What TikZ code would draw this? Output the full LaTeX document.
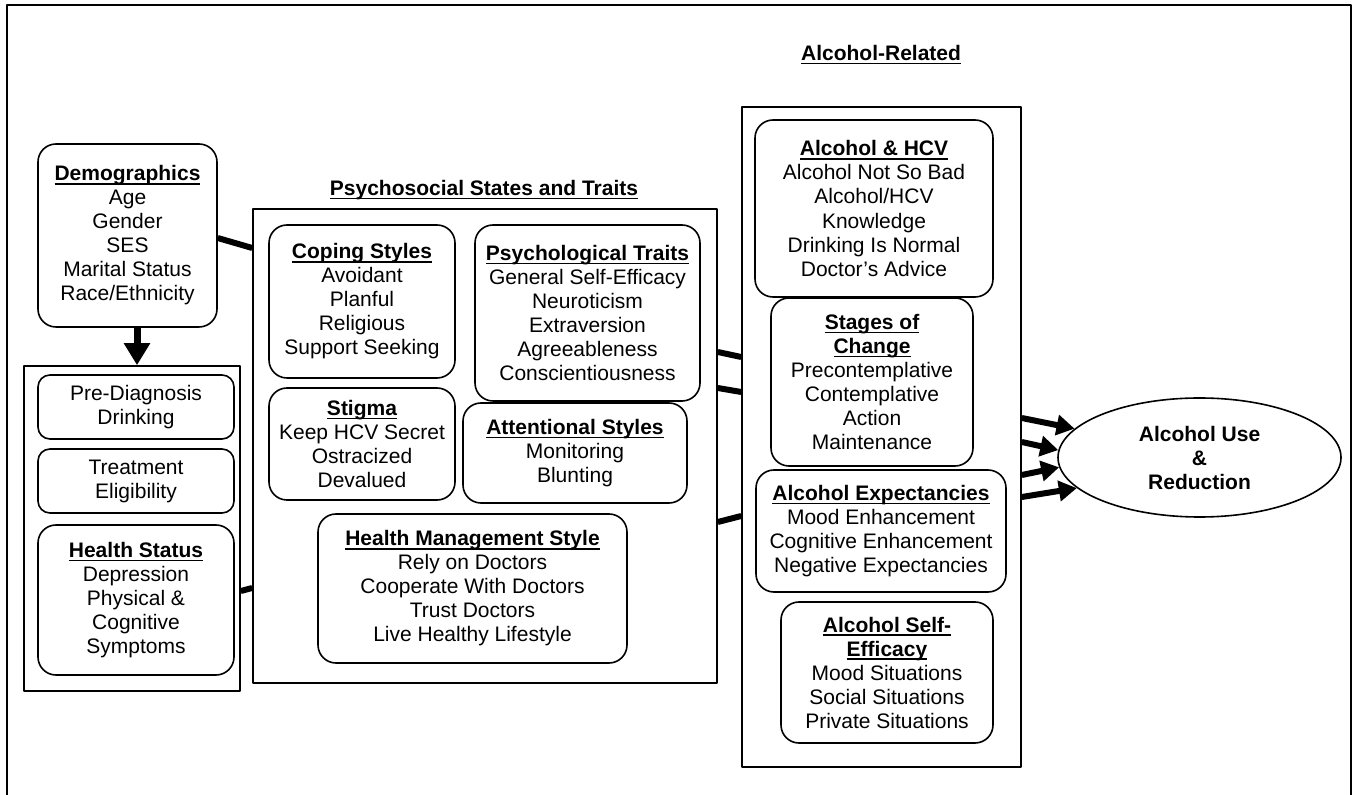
\documentclass[tikz,border=0pt]{standalone}
\usepackage{fontspec}
\setmainfont{Liberation Sans}
\usetikzlibrary{arrows.meta,shapes.geometric}
\newcommand{\hdr}[1]{{\bfseries\setbox0=\hbox{#1}\rlap{\rule[-1.8pt]{\wd0}{0.6pt}}\box0}}

\begin{document}
\begin{tikzpicture}[x=0.5pt, y=-0.5pt, line join=round,
    box/.style={draw, line width=0.8pt, rounded corners=9pt, align=center, inner sep=2pt,
      font=\fontsize{10.5}{12}\selectfont},
    grp/.style={draw, line width=0.8pt, inner sep=0pt},
    ttl/.style={font=\fontsize{10.5}{12}\selectfont},
    link/.style={line width=3pt},
    fat/.style={line width=3pt, -{Triangle[length=9pt,width=10pt]}}]
  \useasboundingbox (0,0) rectangle (1353,795);
  \draw[line width=1.2pt] (7,795) -- (7,5) -- (1351,5) -- (1351,795);

  \node[box, minimum width=89.5pt, minimum height=91.5pt] (demo) at (127.5,235.5)
    {\hdr{Demographics}\\Age\\Gender\\SES\\Marital Status\\Race/Ethnicity};
  \node[grp, minimum width=108pt, minimum height=162.5pt] (lgrp) at (132,528.5) {};
  \node[box, rounded corners=6pt, minimum width=98pt, minimum height=32pt] (pre) at (136,407) {Pre-Diagnosis\\Drinking};
  \node[box, rounded corners=6pt, minimum width=98pt, minimum height=32pt] (treat) at (136,481) {Treatment\\Eligibility};
  \node[box, minimum width=98pt, minimum height=75pt] (health) at (136,600)
    {\hdr{Health Status}\\Depression\\Physical \&\\Cognitive\\Symptoms};

  \node[grp, minimum width=232pt, minimum height=237pt] (psy) at (485,446) {};
  \node[ttl] (psytitle) at (484,190) {\hdr{Psychosocial States and Traits}};
  \node[box, minimum width=93pt, minimum height=76.5pt] (coping) at (362,301.5)
    {\hdr{Coping Styles}\\Avoidant\\Planful\\Religious\\Support Seeking};
  \node[box, minimum width=112.5pt, minimum height=88pt] (traits) at (587.5,313)
    {\hdr{Psychological Traits}\\General Self-Efficacy\\Neuroticism\\Extraversion\\Agreeableness\\Conscientiousness};
  \node[box, minimum width=93pt, minimum height=56pt] (stigma) at (362,444)
    {\hdr{Stigma}\\Keep HCV Secret\\Ostracized\\Devalued};
  \node[box, minimum width=112pt, minimum height=50pt] (attn) at (575,453)
    {\hdr{Attentional Styles}\\Monitoring\\Blunting};
  \node[box, minimum width=154.5pt, minimum height=74.5pt] (hms) at (472.5,588.5)
    {\hdr{Health Management Style}\\Rely on Doctors\\Cooperate With Doctors\\Trust Doctors\\Live Healthy Lifestyle};

  \node[grp, minimum width=139.5pt, minimum height=330pt] (alc) at (881.5,437) {};
  \node[ttl] (alctitle) at (881,55) {\hdr{Alcohol-Related}};
  \node[box, minimum width=119pt, minimum height=88.5pt] (hcv) at (874,208.5)
    {\hdr{Alcohol \& HCV}\\Alcohol Not So Bad\\Alcohol/HCV\\Knowledge\\Drinking Is Normal\\Doctor's Advice};
  \node[box, minimum width=101pt, minimum height=84pt] (stages) at (872,382)
    {\hdr{Stages of}\\\hdr{Change}\\Precontemplative\\Contemplative\\Action\\Maintenance};
  \node[box, minimum width=125pt, minimum height=61pt] (expect) at (881,531)
    {\hdr{Alcohol Expectancies}\\Mood Enhancement\\Cognitive Enhancement\\Negative Expectancies};
  \node[box, minimum width=106pt, minimum height=70.5pt] (selfeff) at (887,672.5)
    {\hdr{Alcohol Self-}\\\hdr{Efficacy}\\Mood Situations\\Social Situations\\Private Situations};

  \node[draw, ellipse, line width=0.8pt, minimum width=141.5pt, minimum height=59.5pt, inner sep=0pt,
    align=center, font=\bfseries\fontsize{10.5}{12}\selectfont] (use) at (1199.5,457.5) {Alcohol Use\\\&\\Reduction};

  \draw[line width=3.5pt, -{Triangle[length=11pt,width=12.5pt]}] ([xshift=4.75pt]demo.south) -- ([xshift=4.75pt]demo.south |- lgrp.north);
  \draw[link] ([yshift=-1.25pt]demo.east) -- ([yshift=99pt]psy.west);
  \draw[link] ([yshift=-31.25pt]lgrp.east) -- ([yshift=-71pt]psy.west);
  \draw[link] ([yshift=47pt]psy.east) -- ([yshift=40pt]alc.west);
  \draw[link] ([yshift=29pt]psy.east) -- ([yshift=22.5pt]alc.west);
  \draw[link] ([yshift=-38pt]psy.east) -- ([yshift=-39.5pt]alc.west);

  \draw[fat] ([yshift=9.5pt]alc.east) -- (use.167.7);
  \draw[fat] ([yshift=-2.5pt]alc.east) -- (use.177);
  \draw[fat] ([yshift=-19pt]alc.east) -- (use.184);
  \draw[fat] ([yshift=-30pt]alc.east) -- (use.194);
\end{tikzpicture}
\end{document}
